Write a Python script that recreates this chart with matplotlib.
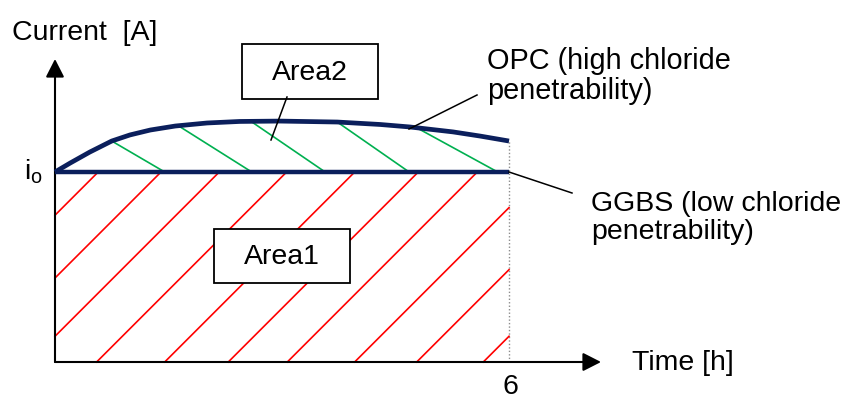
import numpy as np
import matplotlib.pyplot as plt
from matplotlib.patches import Rectangle

plt.rcParams['font.family'] = ['Liberation Sans', 'DejaVu Sans']
plt.rcParams['mathtext.fontset'] = 'custom'
plt.rcParams['mathtext.rm'] = 'Liberation Sans'

# curves (time in h, current relative to i_o)
opc_t = [0, 0.20, 0.46, 0.75, 0.99, 1.26, 1.59, 2.01, 2.44, 2.97, 3.73, 4.30, 4.69, 5.26, 5.62, 6.0]
opc_i = [1.0, 1.047, 1.105, 1.163, 1.195, 1.221, 1.242, 1.258, 1.266, 1.268, 1.263,
         1.250, 1.237, 1.211, 1.189, 1.163]
ggbs_t = [0, 6.0]
ggbs_i = [1.0, 1.0]
t_end = 6.0

# hatch lines: red ones by their crossing of the time axis,
# green ones by top (on OPC curve) and bottom (on GGBS line) time
red_t0 = [-1.94, -1.11, -0.34, 0.55, 1.45, 2.29, 3.07, 3.96, 4.78, 5.66]
green_top = [0.75, 1.63, 2.59, 3.73, 4.78]
green_bot = [1.45, 2.60, 3.57, 4.68, 5.85]

W, H = 849, 401
X0, Y0 = 55, 362        # pixel position of the origin
SX, SY = 75.67, 190.0   # pixels per hour / per i_o
FS = 20.5


def px(x, y):
    return (x - X0) / SX, (Y0 - y) / SY


fig = plt.figure(figsize=(W / 100, H / 100), dpi=100)
ax = fig.add_axes([0, 0, 1, 1])
ax.set_xlim(px(0, 0)[0], px(W, 0)[0])
ax.set_ylim(px(0, H)[1], px(0, 0)[1])
ax.axis('off')

# axes with arrows
arr = dict(arrowstyle='-|>,head_length=0.55,head_width=0.28', mutation_scale=20,
           lw=1.5, color='black', shrinkA=0, shrinkB=0)
ax.annotate('', xy=(0, px(0, 59)[1]), xytext=(0, 0), arrowprops=arr)
ax.annotate('', xy=(px(601, 0)[0], 0), xytext=(0, 0), arrowprops=arr)

# dotted line at t = 6
ax.plot([t_end, t_end], [0, opc_i[-1]], color='#8c8c8c', lw=1, ls=(0, (1, 1.5)), zorder=1)

# red hatching of area 1
k = SY / SX  # 45 degree on screen
for t0 in red_t0:
    i_lo = max(0, (0 - t0) / k)
    i_hi = min(1.0, (t_end - t0) / k)
    ax.plot([t0 + k * i_lo, t0 + k * i_hi], [i_lo, i_hi], color='#ff0000', lw=1.2, zorder=1)

# green hatching of area 2
for a, b in zip(green_top, green_bot):
    ax.plot([a, b], [np.interp(a, opc_t, opc_i), 1.0], color='#00b050', lw=1.2, zorder=1)

# curves
ax.plot(opc_t, opc_i, color='#0b1f5c', lw=3.4, solid_capstyle='butt',
        solid_joinstyle='round', zorder=3)
ax.plot(ggbs_t, ggbs_i, color='#0b1f5c', lw=3.2, solid_capstyle='butt', zorder=3)

# boxes
for (x1, y1, x2, y2), label in [((242, 44, 378, 99), 'Area2'), ((214, 229, 350, 283), 'Area1')]:
    ax.add_patch(Rectangle(px(x1, y2), (x2 - x1) / SX, (y2 - y1) / SY,
                           fc='white', ec='black', lw=1.3, zorder=4))
    ax.text(*px((x1 + x2) / 2, (y1 + y2) / 2 + 1), label, fontsize=FS,
            ha='center', va='center', zorder=5)

# leader lines
for (xa, ya), (xb, yb) in [((287, 97), (271, 140)), ((477, 95), (409, 129)), ((509, 172), (572, 193))]:
    pa, pb = px(xa, ya), px(xb, yb)
    ax.plot([pa[0], pb[0]], [pa[1], pb[1]], color='black', lw=1.1, zorder=5)

# labels
ax.text(*px(12, 33), 'Current  [A]', fontsize=FS, ha='left', va='center')
ax.text(*px(24, 172), r'i$_\mathregular{o}$', fontsize=FS, ha='left', va='center')
ax.text(*px(487, 76), 'OPC (high chloride\npenetrability)', fontsize=20.8,
        ha='left', va='center', linespacing=1.12)
ax.text(*px(591, 218), 'GGBS (low chloride\npenetrability)', fontsize=FS,
        ha='left', va='center', linespacing=1.12)
ax.text(*px(632, 363), 'Time [h]', fontsize=FS, ha='left', va='center')
ax.text(*px(510, 387), '6', fontsize=FS, ha='center', va='center')

fig.savefig('out.png', dpi=100)
